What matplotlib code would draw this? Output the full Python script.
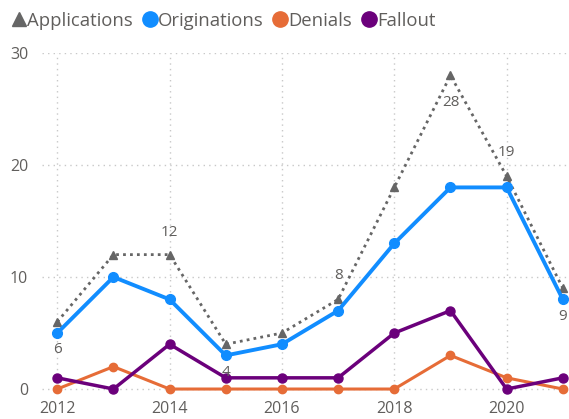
"""
plot.py
-------
Loan pipeline by year: applications vs originations, denials and fallout.
"""

import matplotlib
matplotlib.use("Agg")
import matplotlib.pyplot as plt
from matplotlib.lines import Line2D


# Chart values.
years = [2012, 2013, 2014, 2015, 2016, 2017, 2018, 2019, 2020, 2021]
applications = [6, 12, 12, 4, 5, 8, 18, 28, 19, 9]
originations = [5, 10, 8, 3, 4, 7, 13, 18, 18, 8]
denials = [0, 2, 0, 0, 0, 0, 0, 3, 1, 0]
fallout = [1, 0, 4, 1, 1, 1, 5, 7, 0, 1]

# Data labels shown on the Applications series: (year, value, label y).
label_years = [2012, 2014, 2015, 2017, 2019, 2020, 2021]
label_values = [6, 12, 4, 8, 28, 19, 9]
label_y = [3.5, 14.0, 1.5, 10.1, 25.6, 21.1, 6.5]

x_ticks = [2012, 2014, 2016, 2018, 2020]
y_ticks = [0, 10, 20, 30]

TEXT = "#605E5C"
GRID = "#C8C8C8"
C_APP = "#666666"
C_ORIG = "#118DFF"
C_DEN = "#E66C37"
C_FALL = "#6B007B"

plt.rcParams["font.family"] = ["Open Sans", "DejaVu Sans"]

fig = plt.figure(figsize=(5.69, 4.19), dpi=100)
ax = fig.add_axes([0.074, 0.0635, 0.926, 0.81])

# Series: order matters so the blue line sits over the dotted one.
ax.plot(years, denials, color=C_DEN, lw=2.2, marker="o", ms=6, clip_on=False, zorder=3)
ax.plot(years, fallout, color=C_FALL, lw=2.5, marker="o", ms=6.5, clip_on=False, zorder=4)
ax.plot(years, applications, color=C_APP, lw=2, ls=(0, (1, 1.5)), marker="^", ms=6,
        clip_on=False, zorder=5)
ax.plot(years, originations, color=C_ORIG, lw=2.8, marker="o", ms=7, clip_on=False, zorder=6)

for yr, val, ly in zip(label_years, label_values, label_y):
    ax.text(yr, ly, str(val), color=TEXT, fontsize=11, ha="center", va="center", zorder=7)

ax.set_xlim(2011.73, 2021.11)
ax.set_ylim(-0.3, 30)
ax.set_xticks(x_ticks)
ax.set_yticks(y_ticks)
ax.tick_params(axis="both", length=0, labelsize=11.5, labelcolor=TEXT)
ax.tick_params(axis="y", pad=10)
ax.tick_params(axis="x", pad=6)
ax.grid(True, color=GRID, ls=(0, (1, 3)), lw=1)
ax.set_axisbelow(True)
for side in ax.spines.values():
    side.set_visible(False)

# Legend across the top, markers only.
handles = [
    Line2D([], [], color=C_APP, marker="^", ls="none", ms=10),
    Line2D([], [], color=C_ORIG, marker="o", ls="none", ms=11),
    Line2D([], [], color=C_DEN, marker="o", ls="none", ms=11),
    Line2D([], [], color=C_FALL, marker="o", ls="none", ms=11),
]
names = ["Applications", "Originations", "Denials", "Fallout"]
leg = fig.legend(handles, names, loc="upper left", bbox_to_anchor=(-0.008, 1.012), ncol=4,
                 frameon=False, fontsize=13.3, handlelength=0.75, handletextpad=0.05,
                 columnspacing=0.55, labelcolor=TEXT)

fig.savefig("out.png", dpi=100)
